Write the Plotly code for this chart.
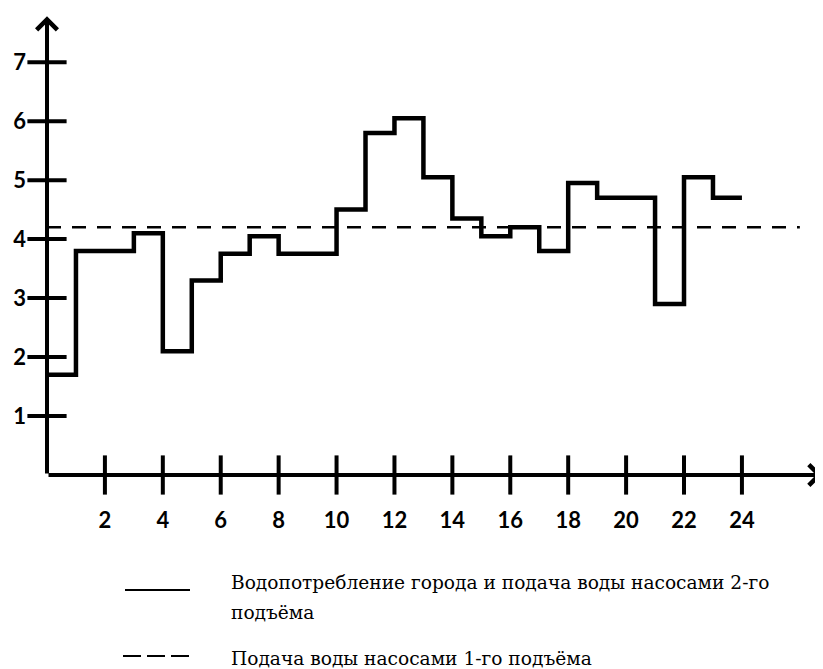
import plotly.graph_objects as go

# ---- data ----
hours = list(range(0, 25))
consumption = [1.7, 3.8, 3.8, 4.1, 2.1, 3.3, 3.75, 4.05, 3.75, 3.75,
               4.5, 5.8, 6.05, 5.05, 4.35, 4.05, 4.2, 3.8, 4.95, 4.7,
               4.7, 2.9, 5.05, 4.7]
pump1_level = 4.2
x_tick_vals = [2, 4, 6, 8, 10, 12, 14, 16, 18, 20, 22, 24]
y_tick_vals = [1, 2, 3, 4, 5, 6, 7]
legend_solid = "Водопотребление города и подача воды насосами 2-го"
legend_solid_2 = "подъёма"
legend_dash = "Подача воды насосами 1-го подъёма"

OFF = 8  # page body margin
W, H = 823 - OFF, 669 - OFF
L, R, T, B = 47 - OFF, 0, 15 - OFF, 194
X_MAX, Y_MAX = 26.8, 7.8

def px(xp):
    return (xp - OFF - L) / (W - L - R)

def py(yp):
    return (H - B - (yp - OFF)) / (H - T - B)

fig = go.Figure()

# step line (city consumption / 2nd lift pumps)
fig.add_trace(go.Scatter(
    x=hours, y=consumption + [consumption[-1]],
    mode="lines", line=dict(color="black", width=4.5, shape="hv"),
    cliponaxis=False, showlegend=False, hoverinfo="skip"))

# dashed line (1st lift pumps)
fig.add_trace(go.Scatter(
    x=[0, 26.0], y=[pump1_level, pump1_level],
    mode="lines", line=dict(color="black", width=2.5, dash="14px,11px"),
    showlegend=False, hoverinfo="skip"))

# tick marks crossing the axes
fig.add_trace(go.Scatter(
    x=x_tick_vals, y=[0] * len(x_tick_vals), mode="markers",
    marker=dict(symbol="line-ns", size=28, line=dict(width=4, color="black")),
    cliponaxis=False, showlegend=False, hoverinfo="skip"))
fig.add_trace(go.Scatter(
    x=[0] * len(y_tick_vals), y=y_tick_vals, mode="markers",
    marker=dict(symbol="line-ew", size=28, line=dict(width=4, color="black")),
    cliponaxis=False, showlegend=False, hoverinfo="skip"))

annotations = [
    dict(x=26.78, y=0, ax=0, ay=0, xref="x", yref="y", axref="x", ayref="y",
         text="", showarrow=True, arrowhead=4, arrowsize=1.0, arrowwidth=4,
         arrowcolor="black"),
    dict(x=0, y=7.78, ax=0, ay=0, xref="x", yref="y", axref="x", ayref="y",
         text="", showarrow=True, arrowhead=4, arrowsize=1.0, arrowwidth=4,
         arrowcolor="black"),
]
leg_font = dict(family="DejaVu Serif", size=18.6, color="black")
annotations += [
    dict(x=px(229), y=py(582), xref="paper", yref="paper", text=legend_solid,
         showarrow=False, xanchor="left", yanchor="middle", font=leg_font),
    dict(x=px(229), y=py(612), xref="paper", yref="paper", text=legend_solid_2,
         showarrow=False, xanchor="left", yanchor="middle", font=leg_font),
    dict(x=px(229), y=py(658), xref="paper", yref="paper", text=legend_dash,
         showarrow=False, xanchor="left", yanchor="middle", font=leg_font),
]

shapes = [
    dict(type="line", xref="paper", yref="paper", x0=px(125), x1=px(190),
         y0=py(590), y1=py(590), line=dict(color="black", width=2)),
    dict(type="line", xref="paper", yref="paper", x0=px(123), x1=px(189),
         y0=py(656), y1=py(656), line=dict(color="black", width=2, dash="18px,6px")),
]

tick_font = dict(family="Lato", size=22, color="black", weight="bold")
fig.update_layout(
    width=W, height=H,
    margin=dict(l=L, r=R, t=T, b=B),
    paper_bgcolor="white", plot_bgcolor="white",
    annotations=annotations, shapes=shapes,
    xaxis=dict(range=[0, X_MAX], showgrid=False, zeroline=False, showline=False,
               tickvals=x_tick_vals, ticktext=[str(v) for v in x_tick_vals],
               ticks="", tickfont=tick_font, ticklabelstandoff=30),
    yaxis=dict(range=[0, Y_MAX], showgrid=False, zeroline=False, showline=False,
               tickvals=y_tick_vals, ticktext=[str(v) for v in y_tick_vals],
               ticks="", tickfont=tick_font, ticklabelstandoff=20),
)

fig.write_html("out.html")
